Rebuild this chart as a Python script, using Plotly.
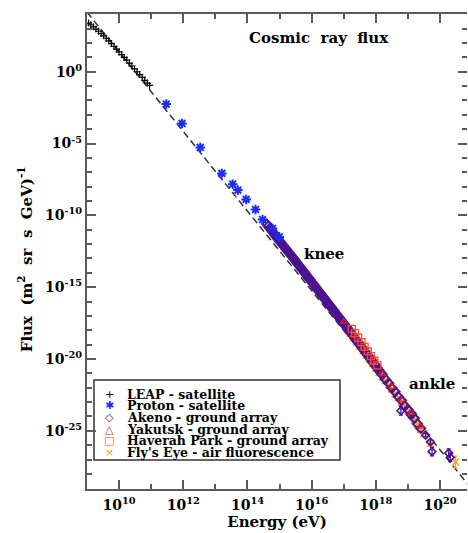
import plotly.graph_objects as go

# ---------------- data (log10 of energy in eV, log10 of flux) ----------------
dash_logE = [9.0, 21.0]
dash_logF = [4.15, -29.1]

leap_logE = [9.05, 9.12, 9.20, 9.28, 9.36, 9.44, 9.52, 9.60, 9.68, 9.76, 9.84, 9.92, 10.00,
             10.08, 10.16, 10.24, 10.32, 10.40, 10.48, 10.56, 10.64, 10.72, 10.80, 10.88, 10.95]
leap_logF = [3.39, 3.27, 3.13, 2.97, 2.82, 2.66, 2.50, 2.33, 2.15, 1.96, 1.77, 1.58, 1.38,
             1.19, 1.00, 0.81, 0.60, 0.40, 0.20, 0.00, -0.20, -0.39, -0.60, -0.79, -0.95]

proton_logE = [11.47, 11.96, 12.53, 13.20, 13.54, 13.70, 13.96, 14.25, 14.47, 14.78, 14.99]
proton_logF = [-2.25, -3.60, -5.27, -7.08, -7.83, -8.24, -8.89, -9.59, -10.29, -10.91, -11.50]

akeno_logE = [14.60, 14.65, 14.70, 14.75, 14.80, 14.85, 14.90, 14.95, 15.00, 15.05, 15.10,
              15.15, 15.20, 15.25, 15.30, 15.35, 15.40, 15.45, 15.50, 15.55, 15.60, 15.65,
              15.70, 15.75, 15.80, 15.85, 15.90, 15.95, 16.00, 16.05, 16.10, 16.15, 16.20,
              16.25, 16.30, 16.35, 16.40, 16.45, 16.50, 16.55, 16.60, 16.65, 16.70, 16.75,
              16.80, 16.85, 16.90, 16.95, 17.00, 17.05, 17.10, 17.15, 17.20, 17.25, 17.30,
              17.35, 17.40, 17.45, 17.50, 17.55, 17.60, 17.65, 17.70, 17.75, 17.80, 17.85,
              17.90, 17.95, 18.00, 18.05, 18.10, 18.15, 18.20, 18.30, 18.40, 18.50, 18.60,
              18.70, 18.80, 18.90, 19.00, 19.10, 19.20, 19.30, 19.40]
akeno_logF = [-10.60, -10.75, -10.90, -11.05, -11.20, -11.35, -11.50, -11.64, -11.78, -11.92,
              -12.06, -12.20, -12.34, -12.48, -12.62, -12.76, -12.90, -13.04, -13.18, -13.33,
              -13.47, -13.62, -13.76, -13.91, -14.05, -14.20, -14.34, -14.49, -14.63, -14.78,
              -14.92, -15.07, -15.21, -15.36, -15.50, -15.65, -15.79, -15.94, -16.08, -16.23,
              -16.37, -16.52, -16.66, -16.81, -16.95, -17.10, -17.24, -17.39, -17.53, -17.68,
              -17.82, -17.96, -18.10, -18.25, -18.40, -18.55, -18.70, -18.85, -19.00, -19.15,
              -19.30, -19.45, -19.60, -19.75, -19.90, -20.05, -20.20, -20.35, -20.50, -20.65,
              -20.80, -20.95, -21.10, -21.42, -21.68, -22.02, -22.28, -22.62, -22.88, -23.27,
              -23.52, -23.88, -24.12, -24.52, -24.83]
akeno_hi_logE = [18.78, 19.13, 19.55, 19.70, 19.75, 20.27, 20.32]
akeno_hi_logF = [-23.6, -23.8, -25.3, -25.78, -26.45, -26.55, -26.85]
akeno_hi_err = [0.3, 0.12, 0.12, 0.15, 0.3, 0.3, 0.3]

yakutsk_logE = [17.0, 17.3, 17.6, 17.9, 18.2, 18.5, 18.8, 19.1, 19.4]
yakutsk_logF = [-17.4, -18.35, -19.25, -20.2, -21.05, -21.95, -22.85, -23.75, -24.7]

haverah_logE = [17.25, 17.35, 17.45, 17.55, 17.65, 17.75, 17.85, 17.95, 18.05]
haverah_logF = [-17.9, -18.2, -18.52, -18.83, -19.15, -19.47, -19.8, -20.12, -20.45]

flys_logE = [17.2, 17.3, 17.4, 17.5, 17.6, 17.7, 17.8, 17.9, 18.0, 18.1, 18.2, 18.3, 18.4,
             18.5, 18.6, 18.7, 18.8, 18.9, 19.0, 19.1, 19.2, 19.3, 19.4, 19.5]
flys_logF = [-18.2, -18.5, -18.8, -19.1, -19.42, -19.72, -20.02, -20.33, -20.63, -20.93,
             -21.22, -21.5, -21.8, -22.1, -22.4, -22.7, -22.98, -23.3, -23.6, -23.9,
             -24.25, -24.55, -24.9, -25.2]
flys_hi_logE = [19.7, 20.48]
flys_hi_logF = [-25.9, -27.17]
flys_hi_err = [0.15, 0.4]

x_major = [10, 12, 14, 16, 18, 20]
y_major = [0, -5, -10, -15, -20, -25]

legend_labels = ["LEAP - satellite", "Proton - satellite", "Akeno - ground array",
                 "Yakutsk - ground array", "Haverah Park - ground array",
                 "Fly's Eye - air fluorescence"]
legend_glyphs = ["+", "\u2731", "\u25C7", "\u25B3", "\u25A1", "\u00D7"]

# ---------------- styling ----------------
C_LEAP = "#000000"
C_PROTON = "#1a2cff"
C_AKENO = "#4b1390"
C_YAK = "#e0202a"
C_HAV = "#ff4a30"
C_FLY = "#ffa31a"
AXC = "#5a5a5a"
FONT = "DejaVu Serif"
SP = "&nbsp;"

W, H = 468, 533
L, R, T, B = 87, 1, 14, 44
XR = [9.0, 20.84]
YR = [-29.05, 4.02]


def p10(v):
    return [10.0 ** a for a in v]


def errs(logF, e):
    up = [10.0 ** f * (10.0 ** dd - 1) for f, dd in zip(logF, e)]
    dn = [10.0 ** f * (1 - 10.0 ** (-dd)) for f, dd in zip(logF, e)]
    return up, dn


fig = go.Figure()

fig.add_trace(go.Scatter(x=p10(dash_logE), y=p10(dash_logF), mode="lines",
                         line=dict(color="#333333", width=1.5, dash="7px,4px"),
                         hoverinfo="skip", showlegend=False))

fig.add_trace(go.Scatter(x=p10(flys_logE), y=p10(flys_logF), mode="markers",
                         marker=dict(symbol="x-thin-open", size=7, color=C_FLY,
                                     line=dict(color=C_FLY, width=1.6)), showlegend=False))
u, d = errs(flys_hi_logF, flys_hi_err)
fig.add_trace(go.Scatter(x=p10(flys_hi_logE), y=p10(flys_hi_logF), mode="markers",
                         marker=dict(symbol="x-thin-open", size=7, color=C_FLY,
                                     line=dict(color=C_FLY, width=1.6)),
                         error_y=dict(type="data", array=u, arrayminus=d, color=C_FLY,
                                      thickness=1.3, width=2), showlegend=False))

fig.add_trace(go.Scatter(x=p10(akeno_logE), y=p10(akeno_logF), mode="markers",
                         marker=dict(symbol="diamond-open", size=7, color=C_AKENO,
                                     line=dict(color=C_AKENO, width=2)), showlegend=False))
u, d = errs(akeno_hi_logF, akeno_hi_err)
fig.add_trace(go.Scatter(x=p10(akeno_hi_logE), y=p10(akeno_hi_logF), mode="markers",
                         marker=dict(symbol="diamond-open", size=6, color=C_AKENO,
                                     line=dict(color=C_AKENO, width=1.6)),
                         error_y=dict(type="data", array=u, arrayminus=d, color=C_AKENO,
                                      thickness=1.3, width=2), showlegend=False))

fig.add_trace(go.Scatter(x=p10(yakutsk_logE), y=p10(yakutsk_logF), mode="markers",
                         marker=dict(symbol="triangle-up-open", size=6, color=C_YAK,
                                     line=dict(color=C_YAK, width=1.2)), showlegend=False))
fig.add_trace(go.Scatter(x=p10(haverah_logE), y=p10(haverah_logF), mode="markers",
                         marker=dict(symbol="square-open", size=7, color=C_HAV,
                                     line=dict(color=C_HAV, width=1.3)), showlegend=False))
fig.add_trace(go.Scatter(x=p10(proton_logE), y=p10(proton_logF), mode="markers",
                         marker=dict(symbol="asterisk-open", size=8, color=C_PROTON,
                                     line=dict(color=C_PROTON, width=2)), showlegend=False))
# LEAP drawn on the overlaying right-hand axis (same range) so that axis gets drawn
fig.add_trace(go.Scatter(x=p10(leap_logE), y=p10(leap_logF), mode="markers", yaxis="y2",
                         marker=dict(symbol="cross-thin-open", size=5, color=C_LEAP,
                                     line=dict(color=C_LEAP, width=1.2)), showlegend=False))


def px(xp):
    return (xp - L) / (W - L - R)


def py(yp):
    return (H - B - yp) / (H - T - B)


ann = []
ann.append(dict(x=px(247), y=py(38), xref="paper", yref="paper", xanchor="left",
                yanchor="middle", showarrow=False,
                text="<b>Cosmic" + SP * 2 + "ray" + SP * 2 + "flux</b>",
                font=dict(family=FONT, size=15, color="black")))
ann.append(dict(x=px(302), y=py(254), xref="paper", yref="paper", xanchor="left",
                yanchor="middle", showarrow=False, text="<b>knee</b>",
                font=dict(family=FONT, size=15, color="black")))
ann.append(dict(x=px(407), y=py(384), xref="paper", yref="paper", xanchor="left",
                yanchor="middle", showarrow=False, text="<b>ankle</b>",
                font=dict(family=FONT, size=15, color="black")))

leg_cols = [C_LEAP, C_PROTON, C_AKENO, C_YAK, C_HAV, C_FLY]
for i, (lab, g, c) in enumerate(zip(legend_labels, legend_glyphs, leg_cols)):
    yy = 394 + 11.7 * i
    ann.append(dict(x=px(125), y=py(yy), xref="paper", yref="paper", xanchor="left",
                    yanchor="middle", showarrow=False, text="<b>" + lab + "</b>",
                    font=dict(family=FONT, size=12.5, color="black")))
    ann.append(dict(x=px(109), y=py(yy), xref="paper", yref="paper", xanchor="center",
                    yanchor="middle", showarrow=False, text=g,
                    font=dict(family="DejaVu Sans", size=11, color=c)))

shapes = [dict(type="rect", xref="paper", yref="paper", x0=px(94), x1=px(340),
               y0=py(460), y1=py(380), line=dict(color="#333333", width=1.5),
               fillcolor="white", layer="below")]

x_minor = [10.0 ** k for k in range(9, 22) if k not in x_major]
y_minor = [10.0 ** k for k in range(-29, 5) if k not in y_major]

tickfont = dict(family=FONT, size=14, color="black")
ytitle = ("<b>Flux" + SP * 2 + "(m<sup>2</sup>" + SP * 2 + "sr" + SP * 2 + "s" + SP * 2 +
          "GeV)<sup>-1</sup>" + SP * 3 + "</b>")

fig.update_layout(
    width=W, height=H, margin=dict(l=L, r=R, t=T, b=B),
    paper_bgcolor="white", plot_bgcolor="white",
    annotations=ann, shapes=shapes,
    xaxis=dict(type="log", range=XR, showgrid=False, zeroline=False,
               tickvals=[10.0 ** k for k in x_major],
               ticktext=["<b>10<sup>%d</sup></b>" % k for k in x_major],
               ticks="inside", ticklen=9, tickwidth=1.5, tickcolor=AXC,
               showline=True, linewidth=2, linecolor=AXC, mirror="ticks",
               minor=dict(tickvals=x_minor, ticks="inside", ticklen=5, tickwidth=1.5,
                          tickcolor=AXC),
               tickfont=tickfont, ticklabelstandoff=2,
               title=dict(text="<b>Energy (eV)</b>", standoff=2,
                          font=dict(family=FONT, size=15, color="black"))),
    yaxis=dict(type="log", range=YR, showgrid=False, zeroline=False,
               tickvals=[10.0 ** k for k in y_major],
               ticktext=["<b>10<sup>%d</sup></b>" % k for k in y_major],
               ticks="inside", ticklen=9, tickwidth=1.5, tickcolor=AXC,
               showline=True, linewidth=2, linecolor=AXC, mirror=False,
               minor=dict(tickvals=y_minor, ticks="inside", ticklen=5, tickwidth=1.5,
                          tickcolor=AXC),
               tickfont=tickfont,
               title=dict(text=ytitle, standoff=9,
                          font=dict(family=FONT, size=15, color="black"))),
    yaxis2=dict(type="log", range=YR, overlaying="y", side="right", showgrid=False,
                zeroline=False, showline=False, showticklabels=False,
                tickvals=[10.0 ** k for k in y_major], ticks="inside", ticklen=9,
                tickwidth=1.5, tickcolor=AXC,
                minor=dict(tickvals=y_minor, ticks="inside", ticklen=5, tickwidth=1.5,
                           tickcolor=AXC)),
    showlegend=False,
)

fig.write_html("out.html", post_script="document.body.style.margin='0';",
               config={"displayModeBar": False})
